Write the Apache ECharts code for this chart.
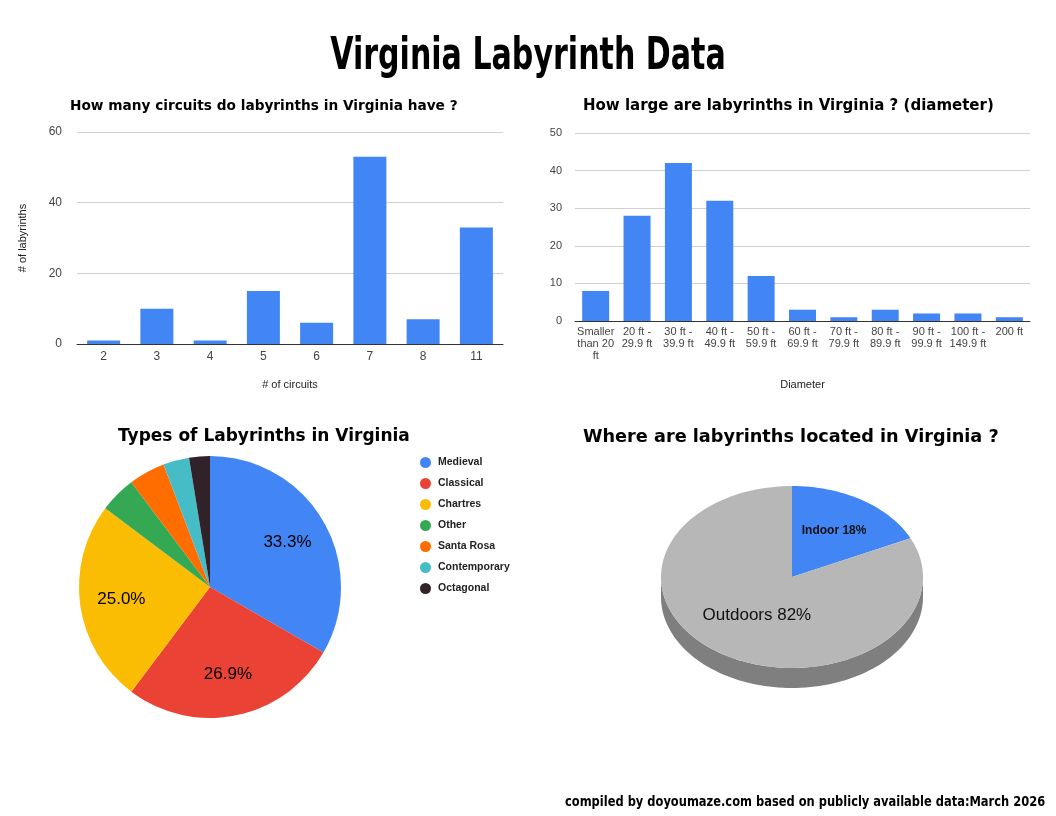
<!DOCTYPE html>
<html>
<head>
<meta charset="utf-8">
<script src="https://cdn.jsdelivr.net/npm/echarts@6/dist/echarts.min.js"></script>
<style>
  html, body { margin: 0; padding: 0; background: #fff; }
  #main { width: 1056px; height: 816px; }
</style>
</head>
<body>
<div id="main"></div>
<script>
// circuits chart
const circuitCats = ['2', '3', '4', '5', '6', '7', '8', '11'];
const circuitCounts = [1, 10, 1, 15, 6, 53, 7, 33];

// diameter chart
const diameterCats = ['Smaller\nthan 20\nft', '20 ft -\n29.9 ft', '30 ft -\n39.9 ft', '40 ft -\n49.9 ft',
  '50 ft -\n59.9 ft', '60 ft -\n69.9 ft', '70 ft -\n79.9 ft', '80 ft -\n89.9 ft', '90 ft -\n99.9 ft',
  '100 ft -\n149.9 ft', '200 ft'];
const diameterCounts = [8, 28, 42, 32, 12, 3, 1, 3, 2, 2, 1];

// types pie
const typeNames = ['Medieval', 'Classical', 'Chartres', 'Other', 'Santa Rosa', 'Contemporary', 'Octagonal'];
const typeCounts = [52, 42, 39, 7, 7, 5, 4];
const typeColors = ['#4285f4', '#ea4335', '#fbbc04', '#34a853', '#ff6d01', '#46bdc6', '#312129'];

// location pie (3d look)
const locationNames = ['Indoor', 'Outdoors'];
const locationValues = [18, 82];
const locationColors = ['#4285f4', '#b7b7b7'];

const chart = echarts.init(document.getElementById('main'));

const titleFont = '"DejaVu Sans", sans-serif';
const axisFont = '"Liberation Sans", Arial, sans-serif';
const impactFont = '"DejaVu Sans Condensed", "DejaVu Sans", sans-serif';

// 3d-ish pie geometry
const P3 = { cx: 792, cy: 577, rx: 131, ry: 91, depth: 20 };
const locTotal = locationValues.reduce((a, b) => a + b, 0);

function ellPt(deg, dy) {
  const a = deg * Math.PI / 180;
  return [P3.cx + P3.rx * Math.sin(a), P3.cy - P3.ry * Math.cos(a) + (dy || 0)];
}

function arcPts(a0, a1, dy) {
  const pts = [];
  const n = Math.max(2, Math.ceil((a1 - a0) / 2));
  for (let i = 0; i <= n; i++) pts.push(ellPt(a0 + (a1 - a0) * i / n, dy));
  return pts;
}

function renderLocation(params, api) {
  const idx = params.dataIndex;
  let start = 0;
  for (let i = 0; i < idx; i++) start += locationValues[i] / locTotal * 360;
  const end = start + api.value(0) / locTotal * 360;
  const children = [];
  // side wall, only the front half is visible
  const s0 = Math.max(start, 90), s1 = Math.min(end, 270);
  if (s1 > s0) {
    const top = arcPts(s0, s1, 0);
    const bottom = arcPts(s0, s1, P3.depth).reverse();
    children.push({
      type: 'polygon', z2: 0,
      shape: { points: top.concat(bottom) },
      style: { fill: idx === 0 ? '#2a5db0' : '#7f7f7f' }
    });
  }
  const face = [[P3.cx, P3.cy]].concat(arcPts(start, end, 0));
  children.push({
    type: 'polygon', z2: 10,
    shape: { points: face },
    style: { fill: locationColors[idx] }
  });
  const mid = (start + end) / 2;
  const lr = idx === 0 ? 0.6 : 0.5;
  const a = mid * Math.PI / 180;
  children.push({
    type: 'text', z2: 20,
    style: {
      x: P3.cx + P3.rx * lr * Math.sin(a),
      y: P3.cy - P3.ry * lr * Math.cos(a),
      text: locationNames[idx] + ' ' + Math.round(api.value(0) / locTotal * 100) + '%',
      align: 'center', verticalAlign: 'middle',
      fill: '#111',
      font: (idx === 0 ? 'bold 12px ' : '17px ') + axisFont
    }
  });
  return { type: 'group', children: children };
}

const typeData = typeNames.map((n, i) => ({ name: n, value: typeCounts[i], itemStyle: { color: typeColors[i] } }));

const option = {
  animation: false,
  backgroundColor: '#fff',
  // condensed heavy headline text, squeezed to look like the poster font
  graphic: [
    { type: 'text', x: 528, y: 58, scaleX: 0.76,
      style: { text: 'Virginia Labyrinth Data', align: 'center', verticalAlign: 'middle',
        font: 'bold 44px ' + impactFont, fill: '#000' } },
    { type: 'text', x: 565, y: 802, scaleX: 0.91,
      style: { text: 'compiled by doyoumaze.com based on publicly available data:March 2026',
        align: 'left', verticalAlign: 'middle', font: 'bold 14px ' + impactFont, fill: '#000' } }
  ],
  title: [
    { text: 'How many circuits do labyrinths in Virginia have ?', left: 70, top: 99, padding: 0,
      textStyle: { fontFamily: titleFont, fontWeight: 'bold', fontSize: 13.7, color: '#000' } },
    { text: 'How large are labyrinths in Virginia ? (diameter)', left: 583, top: 99, padding: 0,
      textStyle: { fontFamily: titleFont, fontWeight: 'bold', fontSize: 15, color: '#000' } },
    { text: 'Types of Labyrinths in Virginia', left: 118, top: 428, padding: 0,
      textStyle: { fontFamily: titleFont, fontWeight: 'bold', fontSize: 17, color: '#000' } },
    { text: 'Where are labyrinths located in Virginia ?', left: 583, top: 428, padding: 0,
      textStyle: { fontFamily: titleFont, fontWeight: 'bold', fontSize: 17.7, color: '#000' } }
  ],
  legend: {
    orient: 'vertical', left: 420, top: 457, padding: 0,
    icon: 'circle', itemWidth: 11, itemHeight: 11, itemGap: 10,
    data: typeNames,
    textStyle: { fontFamily: axisFont, fontWeight: 'bold', fontSize: 10.5, color: '#222', padding: [0, 0, 0, 2] }
  },
  grid: [
    { left: 77, right: 553, top: 132, height: 212 },
    { left: 575, right: 26, top: 133, height: 188 }
  ],
  xAxis: [
    { type: 'category', gridIndex: 0, data: circuitCats,
      name: '# of circuits', nameLocation: 'middle', nameGap: 35,
      nameTextStyle: { fontFamily: axisFont, fontSize: 11, color: '#222' },
      axisLine: { lineStyle: { color: '#333' } }, axisTick: { show: false },
      axisLabel: { fontFamily: axisFont, fontSize: 12, color: '#444', margin: 7 } },
    { type: 'category', gridIndex: 1, data: diameterCats,
      name: 'Diameter', nameLocation: 'middle', nameGap: 58,
      nameTextStyle: { fontFamily: axisFont, fontSize: 11, color: '#222' },
      axisLine: { lineStyle: { color: '#333' } }, axisTick: { show: false },
      axisLabel: { fontFamily: axisFont, fontSize: 11, color: '#444', margin: 5, interval: 0, lineHeight: 12 } }
  ],
  yAxis: [
    { type: 'value', gridIndex: 0, min: 0, max: 60, interval: 20,
      name: '# of labyrinths', nameLocation: 'middle', nameGap: 49,
      nameTextStyle: { fontFamily: axisFont, fontSize: 11, color: '#222' },
      splitLine: { lineStyle: { color: '#d0d0d0' } },
      axisLabel: { fontFamily: axisFont, fontSize: 12, color: '#444', margin: 15 } },
    { type: 'value', gridIndex: 1, min: 0, max: 50, interval: 10,
      splitLine: { lineStyle: { color: '#d0d0d0' } },
      axisLabel: { fontFamily: axisFont, fontSize: 11, color: '#444', margin: 13 } }
  ],
  series: [
    { type: 'bar', xAxisIndex: 0, yAxisIndex: 0, data: circuitCounts, barWidth: 33,
      itemStyle: { color: '#4285f4' } },
    { type: 'bar', xAxisIndex: 1, yAxisIndex: 1, data: diameterCounts, barWidth: 27,
      itemStyle: { color: '#4285f4' } },
    { type: 'pie', name: 'types', center: [210, 587], radius: [0, 131], startAngle: 90,
      data: typeData, label: { show: false }, labelLine: { show: false },
      itemStyle: { borderWidth: 0 } },
    // transparent copy only to place the percent labels further out
    { type: 'pie', name: 'typeLabels', center: [210, 587], radius: [0, 173], startAngle: 90,
      silent: true, z: 3,
      data: typeNames.map((n, i) => ({ name: n, value: typeCounts[i] })),
      itemStyle: { color: 'rgba(0,0,0,0)', borderWidth: 0 },
      labelLine: { show: false },
      label: { show: true, position: 'inside', color: '#000', fontFamily: axisFont, fontSize: 17,
        formatter: p => p.percent >= 10 ? p.percent.toFixed(1) + '%' : '' } },
    { type: 'custom', coordinateSystem: 'none', renderItem: renderLocation,
      data: locationValues.map((v, i) => ({ name: locationNames[i], value: v })) }
  ]
};

chart.setOption(option);
</script>
</body>
</html>
